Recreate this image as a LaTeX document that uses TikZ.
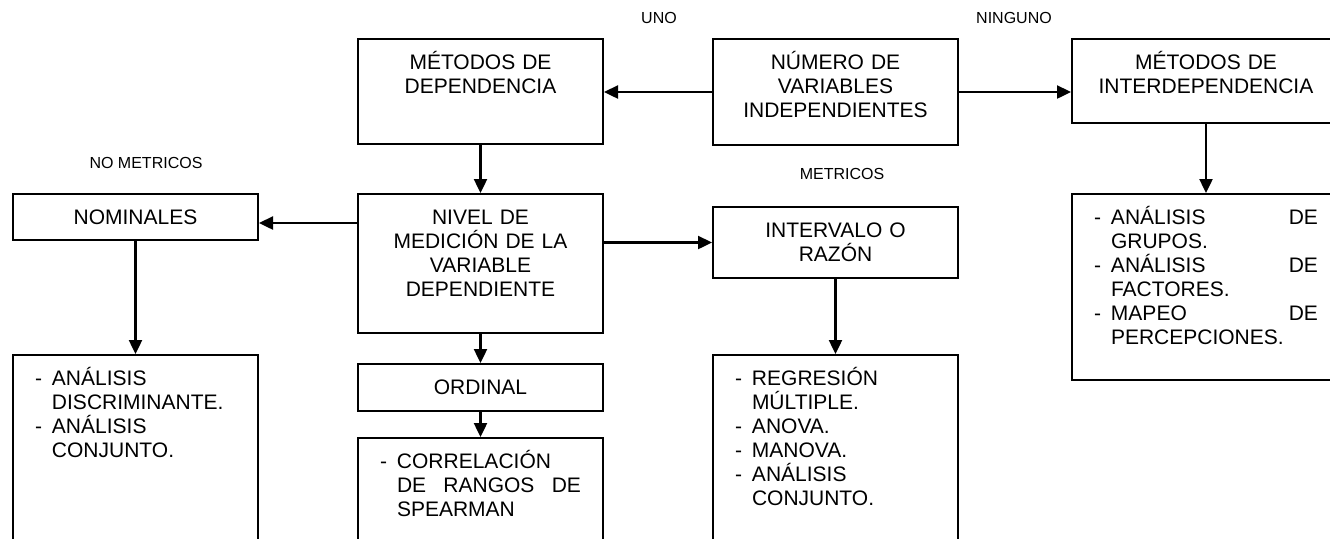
\documentclass[tikz,border=0pt]{standalone}
\usepackage{fontspec}
\setmainfont{Liberation Sans}
\usetikzlibrary{arrows.meta}
\newcommand{\guion}{\hangindent=8.5pt\hangafter=1\noindent\makebox[8.5pt][l]{-}}
\hbadness=10000
\tikzset{
  caja/.style={draw, line width=1pt, anchor=north west, inner xsep=4pt, inner ysep=0pt,
    text height=15pt, align=center, font=\fontsize{10.5}{12}\selectfont},
  lista/.style={caja, inner xsep=11pt, align=justify},
  etiqueta/.style={anchor=base, font=\fontsize{8}{9.6}\selectfont},
  flecha/.style={-{Triangle[length=7pt,width=6.5pt]}, line width=1.2pt},
}
\begin{document}
\begin{tikzpicture}[x=1pt,y=-1pt]
  \useasboundingbox (0,0) rectangle (665,269);
  \fill[white] (0,0) rectangle (665,269);
  \clip (0,0) rectangle (665,269);

  % fila de arriba
  \node[caja, text width=114.5pt, text depth=37.5pt] (dep) at (178.5,19) {MÉTODOS DE\\DEPENDENCIA};
  \node[caja, text width=114.5pt, text depth=38pt] (num) at (356,19) {NÚMERO DE\\VARIABLES\\INDEPENDIENTES};
  \node[caja, text width=126pt, text depth=27pt] (inter) at (535.5,19) {MÉTODOS DE\\INTERDEPENDENCIA};

  % nivel de medicion
  \node[caja, text width=114.5pt, text depth=8pt] (nom) at (6,96.5) {NOMINALES};
  \node[caja, text width=114.5pt, text depth=54.5pt] (niv) at (178.5,96.5) {NIVEL DE\\MEDICIÓN DE LA\\VARIABLE\\DEPENDIENTE};
  \node[caja, text width=114.5pt, text depth=20.5pt] (intv) at (356,103) {INTERVALO O\\RAZÓN};
  \node[lista, text width=112pt, text depth=78pt] (lst) at (535.5,96.5)
    {\guion ANÁLISIS DE\linebreak GRUPOS.\par\guion ANÁLISIS DE\linebreak FACTORES.\par\guion MAPEO DE\linebreak PERCEPCIONES.\par};
  \node[caja, text width=114.5pt, text depth=8.5pt] (ord) at (178.5,181.5) {ORDINAL};

  % tecnicas
  \node[lista, text width=100.5pt, text depth=85pt] (disc) at (6,177)
    {\guion ANÁLISIS\newline DISCRIMINANTE.\par\guion ANÁLISIS\newline CONJUNTO.\par};
  \node[lista, text width=100.5pt, text depth=45pt] (corr) at (178.5,218.5)
    {\guion CORRELACIÓN\newline DE RANGOS DE\linebreak SPEARMAN\par};
  \node[lista, text width=100.5pt, text depth=85pt] (reg) at (356,177)
    {\guion REGRESIÓN\newline MÚLTIPLE.\par\guion ANOVA.\par\guion MANOVA.\par\guion ANÁLISIS\newline CONJUNTO.\par};

  % etiquetas
  \node[etiqueta] (uno) at (329.5,11.9) {UNO};
  \node[etiqueta] (ninguno) at (507,11.9) {NINGUNO};
  \node[etiqueta] (nomet) at (73,84.4) {NO METRICOS};
  \node[etiqueta] (met) at (421,89.9) {METRICOS};

  % flechas
  \coordinate (n1) at ([yshift=-3pt]nom.east);
  \draw[flecha] (num.west) -- (num.west -| dep.east);
  \draw[flecha] (num.east) -- (num.east -| inter.west);
  \draw[flecha] (dep.south) -- (niv.north);
  \draw[flecha] (inter.south) -- (lst.north);
  \draw[flecha] (niv.west |- n1) -- (n1);
  \draw[flecha] (niv.east |- intv.west) -- (intv.west);
  \draw[flecha] (nom.south) -- (disc.north);
  \draw[flecha] (niv.south) -- (ord.north);
  \draw[flecha] (ord.south) -- (corr.north);
  \draw[flecha] (intv.south) -- (reg.north);
\end{tikzpicture}
\end{document}
